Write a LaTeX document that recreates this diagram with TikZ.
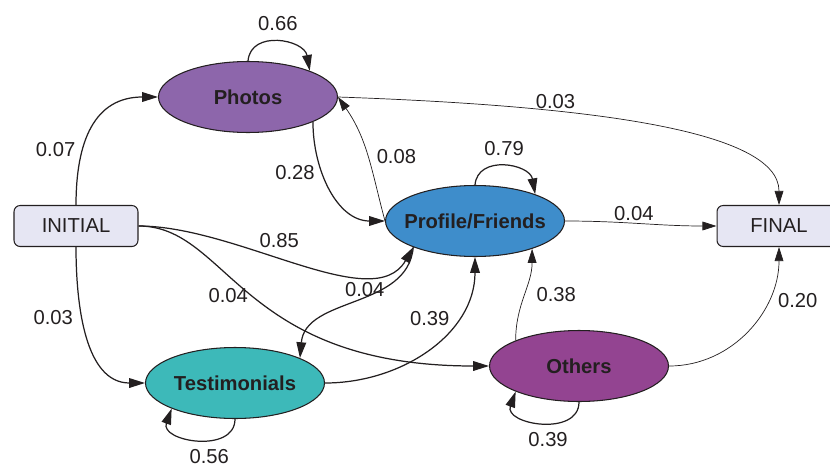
\documentclass[tikz,border=0pt]{standalone}
\usepackage{fontspec}
\setmainfont{Liberation Sans}
\usetikzlibrary{shapes.geometric, arrows.meta}

\definecolor{inkcol}{HTML}{231F20}
\definecolor{boxcol}{HTML}{E6E6F3}
\definecolor{photoscol}{HTML}{8D66AB}
\definecolor{profilecol}{HTML}{3E8DCB}
\definecolor{testicol}{HTML}{3DB9B9}
\definecolor{otherscol}{HTML}{934491}

\begin{document}
\begin{tikzpicture}[
x=0.02cm, y=-0.02cm,
every node/.style={font=\fontsize{11.5}{13}\selectfont, text=inkcol},
state/.style={ellipse, draw=inkcol, line width=0.6pt, minimum width=3.58cm, minimum height=1.42cm, inner sep=0pt, font=\fontsize{11.5}{13}\selectfont\bfseries},
endpoint/.style={rectangle, rounded corners=3.5pt, draw=inkcol, line width=0.6pt, fill=boxcol, minimum width=2.48cm, minimum height=0.82cm},
arrow/.style={-{Triangle[length=9pt, width=5.5pt]}, draw=inkcol, line width=0.7pt},
thinarrow/.style={-{Triangle[length=8pt, width=5pt]}, draw=inkcol, line width=0.4pt},
lbl/.style={inner sep=1pt},
]

\useasboundingbox (0,0) rectangle (830,466);

\node[endpoint] (initial) at (76,226) {INITIAL};
\node[endpoint] (final) at (779,226) {FINAL};
\node[state, fill=photoscol] (photos) at (248,97) {Photos};
\node[state, fill=profilecol, inner xsep=-5pt] (profile) at (475,221) {Profile/Friends};
\node[state, fill=testicol] (testimonials) at (235,383) {Testimonials};
\node[state, fill=otherscol] (others) at (579,366) {Others};

% from INITIAL
\draw[arrow] (initial.north) to[out=90, in=180, looseness=1.2] node[lbl, pos=0.33, left=3pt] {0.07} (photos.west);
\draw[arrow] (initial.south) to[out=-90, in=180] node[lbl, pos=0.38, left=4pt] {0.03} (testimonials.west);
\draw[arrow] (initial.east) to[out=0, in=240, out distance=2cm, in distance=1.6cm] node[lbl, pos=0.37, above right=0pt] {0.85} (profile.203);
\draw[arrow] (initial.east) to[out=0, in=180, out distance=1.8cm, in distance=5cm] node[lbl, pos=0.5, left=2pt] {0.04} (others.west);

% from Photos
\draw[arrow] (photos.north) to[out=85, in=100, looseness=1.3] node[lbl, above=5pt] {0.66} (photos.23);
\draw[arrow] (photos.-21) to[out=-90, in=180] node[lbl, pos=0.36, left=3pt] {0.28} (profile.west);
\draw[thinarrow] (photos.east) to[out=-2, in=90, out distance=5cm, in distance=1.5cm] node[lbl, pos=0.32, above] {0.03} (final.north);

% from Profile/Friends
\draw[thinarrow] (profile.west) to[out=105, in=-55] node[lbl, pos=0.5, right=4pt] {0.08} (photos.east);
\draw[arrow] (profile.north) to[out=85, in=100, looseness=1.3] node[lbl, above=5pt] {0.79} (profile.24);
\draw[thinarrow] (profile.east) to[out=0, in=180] node[lbl, pos=0.45, above] {0.04} (final.west);
\draw[arrow] (profile.203) to[out=-95, in=85] node[lbl, pos=0.45, above] {0.04} (testimonials.21);

% from Testimonials
\draw[arrow] (testimonials.east) to[out=0, in=-90] node[lbl, pos=0.7, left=3pt] {0.39} (profile.south);
\draw[arrow] (testimonials.south) to[out=-90, in=-110, looseness=1.4] node[lbl, pos=0.4, below=4pt] {0.56} (testimonials.202);

% from Others
\draw[thinarrow] (others.158) to[out=90, in=-90] node[lbl, pos=0.5, right=6pt] {0.38} (profile.-26);
\draw[thinarrow] (others.east) to[out=0, in=-90] node[lbl, pos=0.7, right=5pt] {0.20} (final.south);
\draw[arrow] (others.south) to[out=-90, in=-110, looseness=1.4] node[lbl, pos=0.45, below=4pt] {0.39} (others.202);

\end{tikzpicture}
\end{document}
